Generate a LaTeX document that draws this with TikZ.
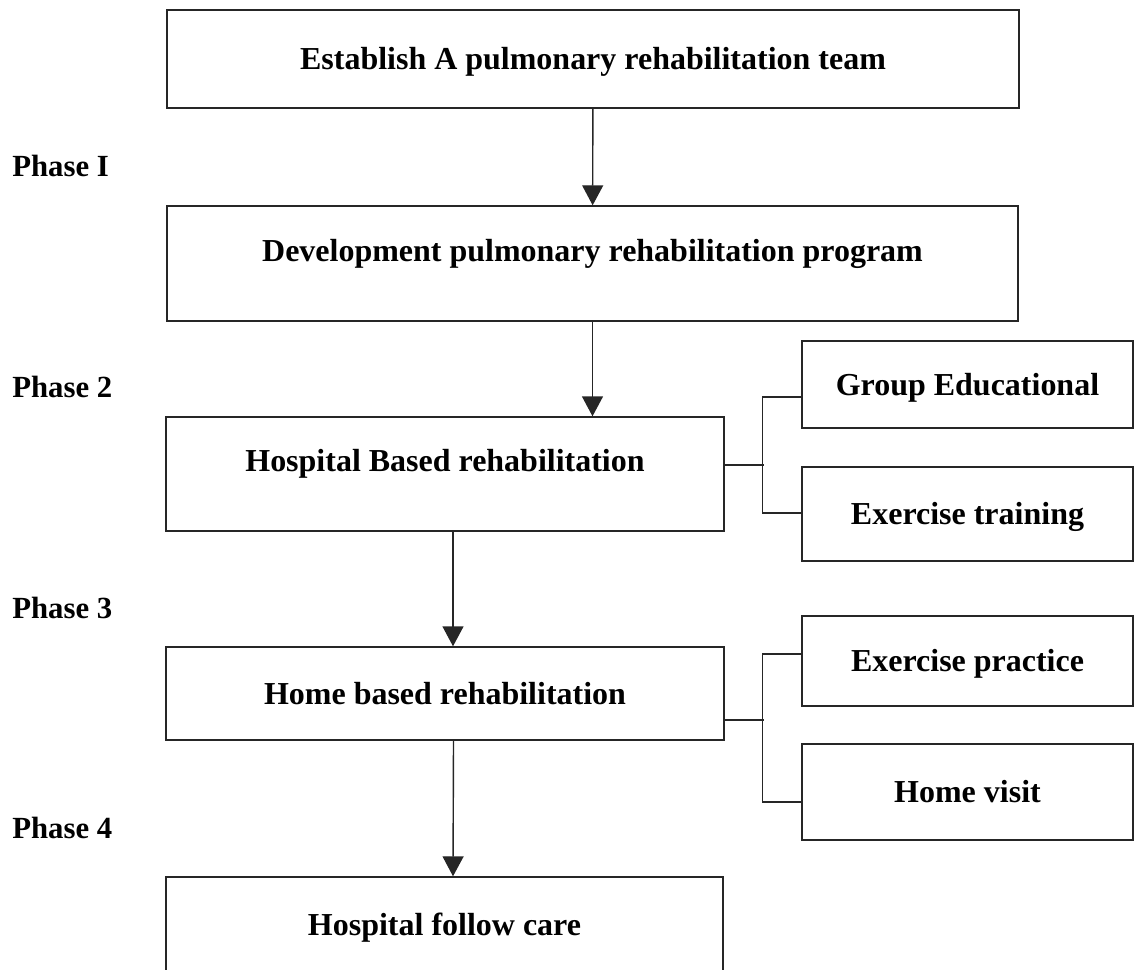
\documentclass[tikz,border=0pt]{standalone}
\usepackage{fontspec}
\setmainfont{Liberation Serif}
\usepackage{tikz}
\usetikzlibrary{arrows.meta}
\tikzstyle{arrow} = [line width=0.8pt, draw=black!85, -{Triangle[width=4.2mm,length=4mm]}]
\tikzstyle{branch} = [line width=0.8pt, draw=black!85]
\tikzstyle{process} = [rectangle, draw=black!85, line width=0.8pt, text centered,
	inner sep=0pt, text height=14pt, text depth=2pt,
	font=\fontsize{18.2}{21}\selectfont\bfseries]
\tikzstyle{uptext} = [text depth=16.8pt]
\tikzstyle{phase} = [anchor=base west, inner sep=0pt, font=\fontsize{17.5}{20}\selectfont\bfseries]

\begin{document}
\begin{tikzpicture}[x=0.2mm, y=-0.2mm]
\useasboundingbox (0,0) rectangle (1136,970);
%----------------------------------------------------------------------------
% Placement of flowchart nodes
\node (team) [process, minimum width=170.4mm, minimum height=19.6mm] at (593,59) {Establish A pulmonary rehabilitation team};
\node (program) [process, uptext, minimum width=170.2mm, minimum height=23mm] at (592.5,263.5) {Development pulmonary rehabilitation program};

\node (hospital) [process, uptext, minimum width=111.6mm, minimum height=22.8mm] at (445,474) {Hospital Based rehabilitation};
\node (groupEdu) [process, minimum width=66.2mm, minimum height=17.4mm] at (967.5,384.5) {Group Educational};
\node (exTrain) [process, minimum width=66.2mm, minimum height=18.8mm] at (967.5,514) {Exercise training};

\node (home) [process, minimum width=111.6mm, minimum height=18.6mm] at (445,693.5) {Home based rehabilitation};
\node (exPractice) [process, minimum width=66.2mm, minimum height=18mm] at (967.5,661) {Exercise practice};
\node (homeVisit) [process, minimum width=66.2mm, minimum height=19.2mm] at (967.5,792) {Home visit};

\node (followCare) [process, minimum width=111.4mm, minimum height=19mm] at (444.5,924.5) {Hospital follow care};

%----------------------------------------------------------------------------
% Phase labels
\node (phaseOne) [phase] at (12,177) {Phase I};
\node (phaseTwo) [phase] at (12,397) {Phase 2};
\node (phaseThree) [phase] at (12,618) {Phase 3};
\node (phaseFour) [phase] at (12,838) {Phase 4};

%----------------------------------------------------------------------------
% Lines
\draw [arrow] (team) -- (program);
\draw [arrow] (program.south) -- (program.south |- hospital.north);
\draw [arrow] ([xshift=1.6mm]hospital.south) -- ([xshift=1.6mm]home.north);
\draw [arrow] ([xshift=1.7mm]home.south) -- ([xshift=1.7mm]followCare.north);

%----------------------------------------------------------------------------
% Branch lines
\draw [branch] ([yshift=1.8mm]hospital.east) -- ++(39,0);
\draw [branch] ([yshift=-2.5mm]groupEdu.west) -- ++(-39,0) |- ([yshift=0.2mm]exTrain.west);
\draw [branch] ([yshift=-5.3mm]home.east) -- ++(39,0);
\draw [branch] ([yshift=1.4mm]exPractice.west) -- ++(-39,0) |- ([yshift=-2mm]homeVisit.west);
\end{tikzpicture}
\end{document}
